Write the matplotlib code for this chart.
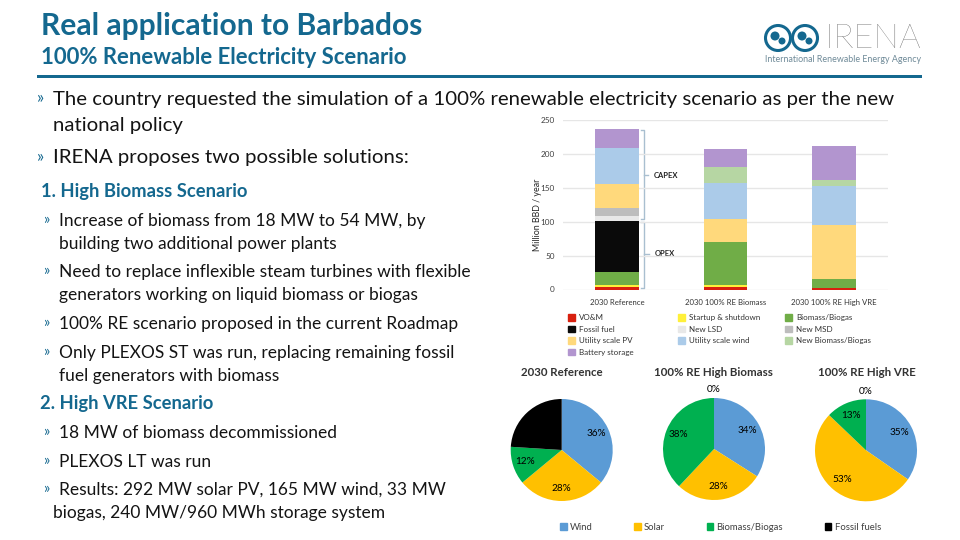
import matplotlib
matplotlib.use("Agg")
from matplotlib import pyplot as plt
from matplotlib.patches import Circle, Rectangle, Patch
import numpy as np

plt.rcParams['font.family'] = ['Lato', 'DejaVu Sans']

# stacked bars, million BBD / year
scenarios = ['2030 Reference', '2030 100% RE Biomass', '2030 100% RE High VRE']
bar_series = ['VO&M', 'Startup & shutdown', 'Biomass/Biogas', 'Fossil fuel', 'New LSD', 'New MSD',
              'Utility scale PV', 'Utility scale wind', 'New Biomass/Biogas', 'Battery storage']
vom = [4, 4, 1.5]
startup = [2, 2.5, 0]
biomass = [20, 63.5, 13.5]
fossil = [75, 0, 0]
new_lsd = [8, 0, 0]
new_msd = [11, 0, 0]
utility_pv = [35.5, 34, 80]
utility_wind = [53.5, 53, 57.5]
new_biomass = [0, 24, 8.5]
battery = [27, 26, 51]
bar_values = [vom, startup, biomass, fossil, new_lsd, new_msd, utility_pv, utility_wind, new_biomass, battery]
bar_colors = ['#d8200f', '#fff03a', '#70ad47', '#0a0a0a', '#e8e8e8', '#bdbdbd',
              '#ffd97c', '#abcbe9', '#b6d6a3', '#b295cf']
y_ticks = [0, 50, 100, 150, 200, 250]

# pies
pie_titles = ['2030 Reference', '100% RE High Biomass', '100% RE High VRE']
pie_series = ['Wind', 'Solar', 'Biomass/Biogas', 'Fossil fuels']
pie_ref = [36, 28, 12, 24]
pie_bio = [34, 28, 38, 0]
pie_vre = [35, 53, 13, 0]
pie_colors = ['#5b9bd5', '#ffc000', '#00b050', '#000000']

TEAL = '#14688f'
TEXT = '#141414'

W, H = 960, 540
fig = plt.figure(figsize=(9.6, 5.4), dpi=100, facecolor='white')


def px_axes(x0, y0, x1, y1):
    return fig.add_axes([x0 / W, 1 - y1 / H, (x1 - x0) / W, (y1 - y0) / H])


# overlay in pixel coords for the slide text and logo
bg = fig.add_axes([0, 0, 1, 1])
bg.set_xlim(0, W)
bg.set_ylim(H, 0)
bg.axis('off')

bg.text(41, 26.5, 'Real application to Barbados', fontsize=21.6, fontweight='bold', color=TEAL, va='center')
bg.text(41, 58, '100% Renewable Electricity Scenario', fontsize=15.9, fontweight='bold', color=TEAL, va='center')
bg.add_patch(Rectangle((37, 74.5), 885, 3.2, color=TEAL, lw=0))

body = [
    (37, 53, 98, True, 'The country requested the simulation of a 100% renewable electricity scenario as per the new'),
    (None, 53, 125, False, 'national policy'),
    (37, 53, 157, True, 'IRENA proposes two possible solutions:'),
]
for bx, tx, y, bullet, s in body:
    if bullet:
        bg.text(bx, y, '»', fontsize=12, color=TEAL, va='center')
    bg.text(tx, y + 1, s, fontsize=14.67, color=TEXT, va='center')

sub = [
    (43, 59, 220, 'Increase of biomass from 18 MW to 54 MW, by'),
    (None, 59, 243, 'building two additional power plants'),
    (43, 59, 271, 'Need to replace inflexible steam turbines with flexible'),
    (None, 59, 294, 'generators working on liquid biomass or biogas'),
    (43, 59, 323, '100% RE scenario proposed in the current Roadmap'),
    (43, 59, 352, 'Only PLEXOS ST was run, replacing remaining fossil'),
    (None, 59, 375, 'fuel generators with biomass'),
    (43, 59, 432, '18 MW of biomass decommissioned'),
    (43, 59, 461, 'PLEXOS LT was run'),
    (43, 59, 489, 'Results: 292 MW solar PV, 165 MW wind, 33 MW'),
    (None, 53, 512, 'biogas, 240 MW/960 MWh storage system'),
]
for bx, tx, y, s in sub:
    if bx:
        bg.text(bx, y, '»', fontsize=10.5, color=TEAL, va='center')
    bg.text(tx, y + 1, s, fontsize=12.5, color=TEXT, va='center')

bg.text(41, 191, '1. High Biomass Scenario', fontsize=13.25, fontweight='bold', color=TEAL, va='center')
bg.text(40, 404, '2. High VRE Scenario', fontsize=13.25, fontweight='bold', color=TEAL, va='center')

# logo
for cx in (778, 805):
    bg.add_patch(Circle((cx, 38), 12.5, fc='white', ec=TEAL, lw=2.2))
    bg.add_patch(Circle((cx - 3, 36), 4.5, fc=TEAL, lw=0))
    bg.add_patch(Circle((cx + 4, 41), 3.5, fc=TEAL, lw=0))
bg.text(825, 39, 'IRENA', fontsize=24.5, color='#505050', va='center', fontweight='light')
bg.text(765, 60, 'International Renewable Energy Agency', fontsize=6.4, color='#6f8a98', va='center')

# stacked bar chart
ax = px_axes(563, 120, 888, 289.5)
x = np.arange(len(scenarios))
bottom = np.zeros(len(scenarios))
for name, vals, col in zip(bar_series, bar_values, bar_colors):
    ax.bar(x, vals, 0.405, bottom=bottom, color=col, label=name, zorder=3)
    bottom += np.array(vals)
ax.set_xlim(-0.5, 2.5)
ax.set_ylim(0, 250)
ax.set_yticks(y_ticks)
ax.set_xticks(x)
ax.set_xticklabels(scenarios)
ax.tick_params(axis='x', length=0, labelsize=5.6, labelcolor='#333333', pad=7)
ax.tick_params(axis='y', length=0, labelsize=5.9, labelcolor='#404040', pad=6)
ax.grid(axis='y', color='#e6e6e6', lw=1, zorder=0)
ax.set_axisbelow(True)
ax.patch.set_alpha(0)
for sp in ax.spines.values():
    sp.set_visible(False)
ax.set_ylabel('Million BBD / year', fontsize=6.4, color='#262626', labelpad=-1, y=0.44)

# CAPEX / OPEX brackets
BR = '#a9bfd0'
bg.plot([641, 644, 644, 641], [130, 130, 219, 219], color=BR, lw=1)
bg.plot([644, 648], [175, 175], color=BR, lw=1)
bg.plot([641, 644, 644, 641], [222, 222, 288, 288], color=BR, lw=1)
bg.plot([644, 649], [254, 254], color=BR, lw=1)
bg.text(654, 175, 'CAPEX', fontsize=5.5, fontweight='bold', color='#222222', va='center')
bg.text(655, 254, 'OPEX', fontsize=5.5, fontweight='bold', color='#222222', va='center')

# legend columns sit at uneven spacing in the slide, so one legend per column
legend_cols = [['VO&M', 'Fossil fuel', 'Utility scale PV', 'Battery storage'],
               ['Startup & shutdown', 'New LSD', 'Utility scale wind'],
               ['Biomass/Biogas', 'New MSD', 'New Biomass/Biogas']]
for names, lx in zip(legend_cols, [568, 678, 785]):
    fig.legend([Patch(color=bar_colors[bar_series.index(n)]) for n in names], names,
               loc='upper left', bbox_to_anchor=(lx / W, 1 - 314 / H), frameon=False,
               fontsize=5.8, labelcolor='#333333', handlelength=0.9, handleheight=0.9, handletextpad=0.5,
               labelspacing=0.55, borderpad=0, borderaxespad=0)

# pies
centers = [(561.7, 450), (714, 449), (866, 450.3)]
radius = 51
title_x = [562, 713.5, 866.5]
for vals, (cx, cy), title, tx in zip([pie_ref, pie_bio, pie_vre], centers, pie_titles, title_x):
    a = px_axes(cx - radius, cy - radius, cx + radius, cy + radius)
    wedges, texts, autos = a.pie(vals, colors=pie_colors, startangle=90, counterclock=False, radius=1,
                                 autopct='%d', pctdistance=0.75, textprops={'fontsize': 7.2, 'color': '#000000'})
    a.set_xlim(-1, 1)
    a.set_ylim(-1, 1)
    for t, v in zip(autos, vals):
        t.set_text(f'{v}%')
        t.set_clip_on(False)
        if v == 0:
            t.set_position((0, 1.16))
    bg.text(tx, 373, title, fontsize=8.3, fontweight='bold', color='#333333', ha='center', va='center')

fig.legend([Patch(color=c) for c in pie_colors], pie_series, ncols=4, loc='center left',
           bbox_to_anchor=(560 / W, 1 - 527 / H), frameon=False, fontsize=6.8, labelcolor='#404040',
           handlelength=0.7, handleheight=0.8, handletextpad=0.35, columnspacing=4.4,
           borderpad=0, borderaxespad=0)

fig.savefig('out.png', dpi=100)
